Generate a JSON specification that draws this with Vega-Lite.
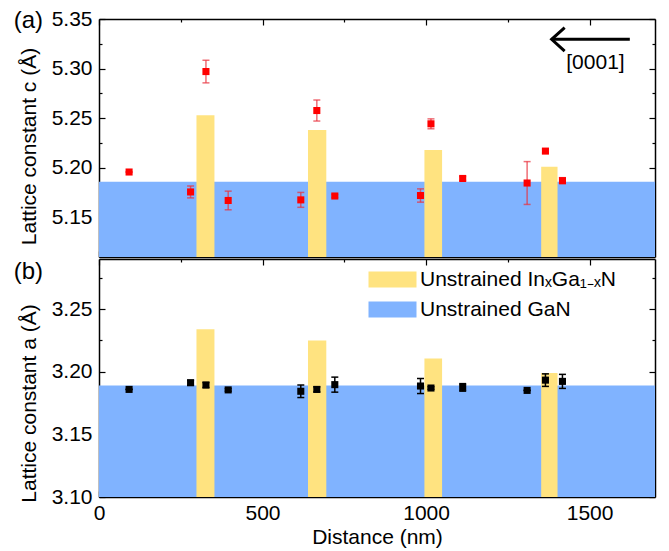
{
  "$schema": "https://vega.github.io/schema/vega-lite/v6.json",
  "background": "white",
  "padding": {"left": 13, "top": 8, "right": 14, "bottom": 8},
  "spacing": 0,
  "config": {
    "font": "Liberation Sans",
    "view": {"stroke": null},
    "axis": {
      "labelFont": "Liberation Sans", "titleFont": "Liberation Sans",
      "labelFontSize": 21, "titleFontSize": 21, "titleFontWeight": "normal",
      "labelColor": "#000", "titleColor": "#000",
      "domainColor": "#000", "domainWidth": 1.5,
      "tickColor": "#000", "tickWidth": 1.2, "grid": false,
      "labelOverlap": false, "labelFlush": false, "zindex": 1, "tickCount": 100
    }
  },
  "resolve": {"scale": {"x": "independent", "y": "independent", "color": "shared"}},
  "datasets": {
    "bands": [
      {"series": "Unstrained GaN", "x0": 0, "x1": 1700, "c": 5.186, "a": 3.189},
      {"series": "Unstrained InₓGa₁₋ₓN", "x0": 298, "x1": 353, "c": 5.253, "a": 3.234},
      {"series": "Unstrained InₓGa₁₋ₓN", "x0": 639, "x1": 695, "c": 5.238, "a": 3.225},
      {"series": "Unstrained InₓGa₁₋ₓN", "x0": 995, "x1": 1049, "c": 5.218, "a": 3.2106},
      {"series": "Unstrained InₓGa₁₋ₓN", "x0": 1352, "x1": 1402, "c": 5.201, "a": 3.199}
    ],
    "cdata": [
      {"x": 92, "v": 5.1957, "lo": 5.1957, "hi": 5.1957},
      {"x": 280, "v": 5.1756, "lo": 5.1696, "hi": 5.1816},
      {"x": 327, "v": 5.297, "lo": 5.2856, "hi": 5.3084},
      {"x": 395, "v": 5.167, "lo": 5.1576, "hi": 5.1764},
      {"x": 617, "v": 5.1676, "lo": 5.1601, "hi": 5.1751},
      {"x": 666, "v": 5.2577, "lo": 5.2471, "hi": 5.2683},
      {"x": 721, "v": 5.1715, "lo": 5.17, "hi": 5.173},
      {"x": 983, "v": 5.172, "lo": 5.1653, "hi": 5.1787},
      {"x": 1015, "v": 5.2443, "lo": 5.2393, "hi": 5.2493},
      {"x": 1112, "v": 5.1892, "lo": 5.1872, "hi": 5.1912},
      {"x": 1309, "v": 5.1846, "lo": 5.163, "hi": 5.2062},
      {"x": 1365, "v": 5.2168, "lo": 5.2148, "hi": 5.2188},
      {"x": 1417, "v": 5.187, "lo": 5.184, "hi": 5.19}
    ],
    "adata": [
      {"x": 92, "v": 3.1859, "lo": 3.1859, "hi": 3.1859},
      {"x": 280, "v": 3.1912, "lo": 3.1892, "hi": 3.1932},
      {"x": 327, "v": 3.1894, "lo": 3.1874, "hi": 3.1914},
      {"x": 395, "v": 3.1855, "lo": 3.1845, "hi": 3.1865},
      {"x": 617, "v": 3.1844, "lo": 3.1794, "hi": 3.1894},
      {"x": 666, "v": 3.1859, "lo": 3.1839, "hi": 3.1879},
      {"x": 721, "v": 3.1897, "lo": 3.1837, "hi": 3.1957},
      {"x": 983, "v": 3.1886, "lo": 3.1826, "hi": 3.1946},
      {"x": 1015, "v": 3.187, "lo": 3.186, "hi": 3.188},
      {"x": 1112, "v": 3.1875, "lo": 3.1845, "hi": 3.1905},
      {"x": 1309, "v": 3.1851, "lo": 3.1851, "hi": 3.1851},
      {"x": 1365, "v": 3.1933, "lo": 3.1883, "hi": 3.1983},
      {"x": 1417, "v": 3.1923, "lo": 3.1867, "hi": 3.1979}
    ],
    "one": [{}]
  },
  "vconcat": [
    {
      "width": 556, "height": 238,
      "layer": [
        {
          "layer": [
            {
              "data": {"name": "bands"},
              "mark": {"type": "rect", "clip": true},
              "encoding": {
                "x": {"field": "x0", "type": "quantitative", "scale": {"domain": [0, 1700], "nice": false, "zero": false},
                  "axis": {"orient": "bottom", "labels": false, "title": null, "tickCount": 100, "values": [0, 250, 500, 750, 1000, 1250, 1500],
                    "tickSize": {"condition": {"test": "datum.value % 500 === 0", "value": -6}, "value": -3}}},
                "x2": {"field": "x1"},
                "y": {"field": "c", "type": "quantitative", "scale": {"domain": [5.11, 5.35], "nice": false, "zero": false},
                  "axis": {"title": "Lattice constant c (Å)", "tickCount": 100, "values": [5.125, 5.15, 5.175, 5.2, 5.225, 5.25, 5.275, 5.3, 5.325, 5.35],
                    "labelExpr": "abs(datum.value*20-round(datum.value*20))<0.01 ? format(datum.value,'.2f') : ''",
                    "tickSize": {"condition": {"test": "abs(datum.value*20-round(datum.value*20))<0.01", "value": -6}, "value": -3},
                    "labelPadding": 13, "titlePadding": 12, "titleY": 127}},
                "y2": {"datum": 5.11},
                "color": {"field": "series", "type": "nominal",
                  "scale": {"domain": ["Unstrained InₓGa₁₋ₓN", "Unstrained GaN"], "range": ["#FFE380", "#80B3FF"]},
                  "legend": {"title": null, "orient": "none", "legendX": 283, "legendY": 250, "symbolType": "M-3,-1H3V1H-3Z", "symbolSize": 256, "symbolStrokeWidth": 0, "symbolOpacity": 1, "labelFontSize": 21, "labelFont": "Liberation Sans", "labelColor": "#000", "labelOffset": 17, "rowPadding": 8, "labelLimit": 400}}
              }
            },
            {
              "data": {"name": "cdata"},
              "mark": {"type": "rule", "color": "#e8303c", "opacity": 0.7, "strokeWidth": 1.5},
              "encoding": {"x": {"field": "x", "type": "quantitative"}, "y": {"field": "lo", "type": "quantitative"}, "y2": {"field": "hi"}}
            },
            {
              "data": {"name": "cdata"},
              "mark": {"type": "tick", "orient": "horizontal", "color": "#e8303c", "opacity": 0.7, "size": 7, "thickness": 1.5},
              "encoding": {"x": {"field": "x", "type": "quantitative"}, "y": {"field": "lo", "type": "quantitative"}}
            },
            {
              "data": {"name": "cdata"},
              "mark": {"type": "tick", "orient": "horizontal", "color": "#e8303c", "opacity": 0.7, "size": 7, "thickness": 1.5},
              "encoding": {"x": {"field": "x", "type": "quantitative"}, "y": {"field": "hi", "type": "quantitative"}}
            },
            {
              "data": {"name": "cdata"},
              "mark": {"type": "point", "shape": "square", "filled": true, "size": 50, "color": "#ff0000", "opacity": 1},
              "encoding": {"x": {"field": "x", "type": "quantitative"}, "y": {"field": "v", "type": "quantitative"}}
            },
            {
              "data": {"name": "one"},
              "mark": {"type": "text", "fontSize": 24, "align": "left", "baseline": "alphabetic", "font": "Liberation Sans", "color": "#000", "clip": false},
              "encoding": {"x": {"datum": -261, "type": "quantitative"}, "y": {"datum": 5.3412, "type": "quantitative"}, "text": {"value": "(a)"}}
            }
          ]
        },
        {
          "data": {"name": "one"},
          "mark": {"type": "point", "opacity": 0},
          "encoding": {
            "x": {"datum": 0, "type": "quantitative", "scale": {"domain": [0, 1700], "nice": false, "zero": false},
              "axis": {"orient": "top", "labels": false, "title": null, "tickCount": 100, "values": [0, 250, 500, 750, 1000, 1250, 1500],
                "tickSize": {"condition": {"test": "datum.value % 500 === 0", "value": -6}, "value": -3}}},
            "y": {"datum": 5.2, "type": "quantitative", "scale": {"domain": [5.11, 5.35], "nice": false, "zero": false},
              "axis": {"orient": "right", "labels": false, "title": null, "tickCount": 100, "values": [5.125, 5.15, 5.175, 5.2, 5.225, 5.25, 5.275, 5.3, 5.325, 5.35],
                "tickSize": {"condition": {"test": "abs(datum.value*20-round(datum.value*20))<0.01", "value": -6}, "value": -3}}}
          }
        },
        {
          "layer": [
            {
              "data": {"name": "one"},
              "mark": {"type": "rule", "strokeWidth": 3, "color": "#000"},
              "encoding": {"x": {"datum": 1384, "type": "quantitative", "scale": {"domain": [0, 1700], "nice": false, "zero": false}, "axis": null}, "x2": {"datum": 1623}, "y": {"datum": 5.3295, "type": "quantitative", "scale": {"domain": [5.11, 5.35], "nice": false, "zero": false}, "axis": null}}
            },
            {
              "data": {"name": "one"},
              "mark": {"type": "point", "shape": "M1,-0.9L0,0L1,0.9", "filled": false, "size": 676, "strokeWidth": 3, "color": "#000", "opacity": 1},
              "encoding": {"x": {"datum": 1384, "type": "quantitative"}, "y": {"datum": 5.3295, "type": "quantitative"}}
            },
            {
              "data": {"name": "one"},
              "mark": {"type": "text", "fontSize": 21, "align": "center", "baseline": "middle", "font": "Liberation Sans", "color": "#000"},
              "encoding": {"x": {"datum": 1518, "type": "quantitative"}, "y": {"datum": 5.306, "type": "quantitative"}, "text": {"value": "[0001]"}}
            }
          ]
        }
      ],
      "resolve": {"scale": {"x": "independent", "y": "independent"}}
    },
    {
      "width": 556, "height": 238,
      "layer": [
        {
          "layer": [
            {
              "data": {"name": "bands"},
              "mark": {"type": "rect", "clip": true},
              "encoding": {
                "x": {"field": "x0", "type": "quantitative", "scale": {"domain": [0, 1700], "nice": false, "zero": false},
                  "axis": {"orient": "bottom", "title": "Distance (nm)", "format": "d", "tickCount": 100, "values": [0, 250, 500, 750, 1000, 1250, 1500],
                    "labelExpr": "datum.value % 500 === 0 ? datum.label : ''",
                    "tickSize": {"condition": {"test": "datum.value % 500 === 0", "value": -6}, "value": -3},
                    "labelPadding": 11, "titlePadding": 0}},
                "x2": {"field": "x1"},
                "y": {"field": "a", "type": "quantitative", "scale": {"domain": [3.1, 3.29], "nice": false, "zero": false},
                  "axis": {"title": "Lattice constant a (Å)", "tickCount": 100, "values": [3.1, 3.125, 3.15, 3.175, 3.2, 3.225, 3.25, 3.275],
                    "labelExpr": "abs(datum.value*20-round(datum.value*20))<0.01 ? format(datum.value,'.2f') : ''",
                    "tickSize": {"condition": {"test": "abs(datum.value*20-round(datum.value*20))<0.01", "value": -6}, "value": -3},
                    "labelPadding": 13, "titlePadding": 12, "titleY": 144}},
                "y2": {"datum": 3.1},
                "color": {"field": "series", "type": "nominal",
                  "scale": {"domain": ["Unstrained InₓGa₁₋ₓN", "Unstrained GaN"], "range": ["#FFE380", "#80B3FF"]},
                  "legend": {"title": null, "orient": "none", "legendX": 283, "legendY": 250, "symbolType": "M-3,-1H3V1H-3Z", "symbolSize": 256, "symbolStrokeWidth": 0, "symbolOpacity": 1, "labelFontSize": 21, "labelFont": "Liberation Sans", "labelColor": "#000", "labelOffset": 17, "rowPadding": 8, "labelLimit": 400}}
              }
            },
            {
              "data": {"name": "adata"},
              "mark": {"type": "rule", "color": "#000", "strokeWidth": 1.5},
              "encoding": {"x": {"field": "x", "type": "quantitative"}, "y": {"field": "lo", "type": "quantitative"}, "y2": {"field": "hi"}}
            },
            {
              "data": {"name": "adata"},
              "mark": {"type": "tick", "orient": "horizontal", "color": "#000", "size": 7, "thickness": 1.5, "opacity": 1},
              "encoding": {"x": {"field": "x", "type": "quantitative"}, "y": {"field": "lo", "type": "quantitative"}}
            },
            {
              "data": {"name": "adata"},
              "mark": {"type": "tick", "orient": "horizontal", "color": "#000", "size": 7, "thickness": 1.5, "opacity": 1},
              "encoding": {"x": {"field": "x", "type": "quantitative"}, "y": {"field": "hi", "type": "quantitative"}}
            },
            {
              "data": {"name": "adata"},
              "mark": {"type": "point", "shape": "square", "filled": true, "size": 50, "color": "#000", "opacity": 1},
              "encoding": {"x": {"field": "x", "type": "quantitative"}, "y": {"field": "v", "type": "quantitative"}}
            },
            {
              "data": {"name": "one"},
              "mark": {"type": "text", "fontSize": 24, "align": "left", "baseline": "alphabetic", "font": "Liberation Sans", "color": "#000", "clip": false},
              "encoding": {"x": {"datum": -261, "type": "quantitative"}, "y": {"datum": 3.274, "type": "quantitative"}, "text": {"value": "(b)"}}
            }
          ]
        },
        {
          "data": {"name": "one"},
          "mark": {"type": "point", "opacity": 0},
          "encoding": {
            "x": {"datum": 0, "type": "quantitative", "scale": {"domain": [0, 1700], "nice": false, "zero": false},
              "axis": {"orient": "top", "labels": false, "title": null, "tickCount": 100, "values": [0, 250, 500, 750, 1000, 1250, 1500],
                "tickSize": {"condition": {"test": "datum.value % 500 === 0", "value": -6}, "value": -3}}},
            "y": {"datum": 3.2, "type": "quantitative", "scale": {"domain": [3.1, 3.29], "nice": false, "zero": false},
              "axis": {"orient": "right", "labels": false, "title": null, "tickCount": 100, "values": [3.1, 3.125, 3.15, 3.175, 3.2, 3.225, 3.25, 3.275],
                "tickSize": {"condition": {"test": "abs(datum.value*20-round(datum.value*20))<0.01", "value": -6}, "value": -3}}}
          }
        }
      ],
      "resolve": {"scale": {"x": "independent", "y": "independent"}}
    }
  ]
}
